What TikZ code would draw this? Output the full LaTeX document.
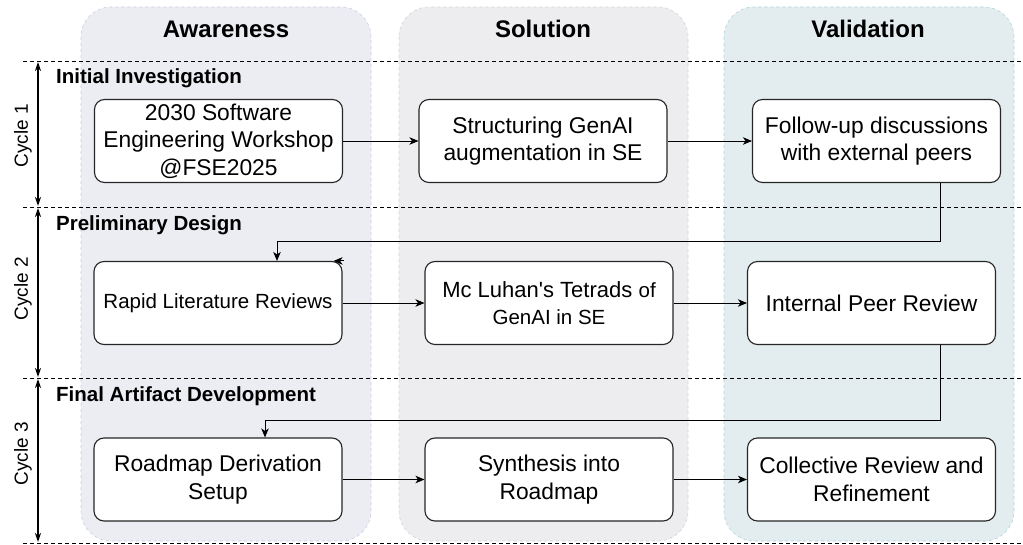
\documentclass[tikz,border=0pt]{standalone}
\usepackage{fontspec}
\setmainfont{Liberation Sans}
\usepackage{tikz}
\usetikzlibrary{arrows.meta,positioning}

\definecolor{awarefill}{RGB}{236,237,243}
\definecolor{awareline}{RGB}{200,206,226}
\definecolor{solfill}{RGB}{237,237,240}
\definecolor{solline}{RGB}{218,208,218}
\definecolor{valfill}{RGB}{227,236,238}
\definecolor{valline}{RGB}{172,214,220}

\begin{document}
\begin{tikzpicture}[y=-1pt,x=1pt,
	lane/.style={rounded corners=30pt, dash pattern=on 3pt off 3pt, line width=0.6pt},
	lanetitle/.style={font=\bfseries\fontsize{24}{28}\selectfont, anchor=base, inner sep=0pt},
	phase/.style={font=\bfseries\fontsize{20.5}{24}\selectfont, anchor=base west, inner sep=0pt},
	cyclelbl/.style={font=\fontsize{19}{22}\selectfont, rotate=90},
	stepbox/.style={draw=black!85, line width=1.1pt, fill=white, rounded corners=10pt,
		minimum width=248pt, minimum height=83pt, align=center, inner sep=2pt,
		font=\fontsize{22.8}{27.5}\selectfont},
	link/.style={line width=0.9pt, -{Stealth[length=9pt,width=7.5pt,inset=2.5pt]}},
	cyc/.style={line width=1.3pt, {Stealth[length=9pt,width=6pt]}-{Stealth[length=9pt,width=6pt]}},
	sep/.style={line width=0.9pt, dash pattern=on 4pt off 3pt}]
	\useasboundingbox (0,0) rectangle (1023,545);

	\draw[lane, fill=awarefill, draw=awareline] (81,7) rectangle (371,541);
	\draw[lane, fill=solfill, draw=solline] (399,7) rectangle (688,541);
	\draw[lane, fill=valfill, draw=valline] (724,7) rectangle (1014,541);

	\node[lanetitle] (tAware) at (226,38) {Awareness};
	\node[lanetitle] (tSol) at (543,38) {Solution};
	\node[lanetitle] (tVal) at (868,38) {Validation};

	\draw[sep] (23,61) -- (1023,61);
	\draw[sep] (23,207) -- (1023,207);
	\draw[sep] (23,378) -- (1023,378);
	\draw[sep] (23,543) -- (1023,543);

	\draw[cyc] (38,62) -- (38,206);
	\draw[cyc] (38,208) -- (38,377);
	\draw[cyc] (38,379) -- (38,542);
	\node[cyclelbl] (c1) at (23,136) {Cycle 1};
	\node[cyclelbl] (c2) at (23,289) {Cycle 2};
	\node[cyclelbl] (c3) at (23,454) {Cycle 3};

	\node[phase] (p1) at (56,84) {Initial Investigation};
	\node[phase] (p2) at (56,231) {Preliminary Design};
	\node[phase] (p3) at (56,401) {Final Artifact Development};

	\node[stepbox] (workshop) at (218.5,141) {2030 Software\\Engineering Workshop\\@FSE2025};
	\node[stepbox] (structuring) at (543,141) {Structuring GenAI\\augmentation in SE};
	\node[stepbox] (followup) at (876.5,141) {Follow-up discussions\\with external peers};

	\node[stepbox, font=\fontsize{20.5}{25}\selectfont] (rapid) at (218,303) {Rapid Literature Reviews};
	\node[stepbox] (tetrads) at (549,303) {{\fontsize{22}{29}\selectfont Mc Luhan\textquotesingle s Tetrads} {\fontsize{20.5}{29}\selectfont of}\\{\fontsize{20.5}{29}\selectfont GenAI in SE}};
	\node[stepbox] (internal) at (871.5,303) {Internal Peer Review};

	\node[stepbox] (derivation) at (218,479.5) {Roadmap Derivation\\Setup};
	\node[stepbox] (synthesis) at (549,479.5) {Synthesis into\\Roadmap};
	\node[stepbox] (collective) at (871.5,479.5) {Collective Review and\\Refinement};

	\coordinate (f1) at (940,241);
	\coordinate (g1) at (277,241);
	\coordinate (f2) at (940,420);
	\coordinate (g2) at (265,420);

	\draw[link] (workshop) -- (structuring);
	\draw[link] (structuring) -- (followup);
	\draw[link] (followup.south -| f1) -- (f1) -- (g1) -- (rapid.north -| g1);
	\draw[link] ([xshift=1pt]rapid.north east) -- ([xshift=-9pt]rapid.north east);
	\draw[link] (rapid) -- (tetrads);
	\draw[link] (tetrads) -- (internal);
	\draw[link] (internal.south -| f2) -- (f2) -- (g2) -- (derivation.north -| g2);
	\draw[link] (derivation) -- (synthesis);
	\draw[link] (synthesis) -- (collective);
\end{tikzpicture}
\end{document}
